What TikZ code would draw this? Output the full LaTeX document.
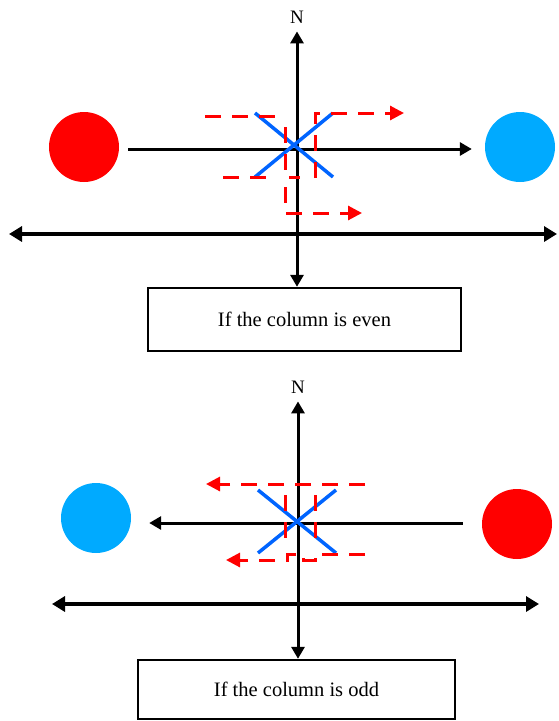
\documentclass[tikz,border=0pt]{standalone}
\usepackage{fontspec}
\setmainfont{Liberation Serif}
\usetikzlibrary{arrows.meta, positioning}
\definecolor{hotred}{RGB}{255,0,0}
\definecolor{skyblue}{RGB}{0,170,255}
\definecolor{crossblue}{RGB}{0,100,255}
\tikzset{
  compass/.style={line width=3pt, {Triangle[length=12pt,width=13pt]}-{Triangle[length=12pt,width=13pt]}},
  ray/.style={line width=3pt, -{Triangle[length=12pt,width=13pt]}},
  ground/.style={line width=4pt, {Triangle[length=13pt,width=15pt]}-{Triangle[length=13pt,width=15pt]}},
  ball/.style={circle, minimum size=70pt, inner sep=0pt},
  casebox/.style={draw, line width=2.4pt, font=\fontsize{20.5}{24}\selectfont},
  trail/.style={hotred, line width=3pt, dash pattern=on 16pt off 11pt},
  trailtip/.style={trail, -{Triangle[length=14pt,width=14pt]}},
  xline/.style={crossblue, line width=3.5pt},
  nlabel/.style={font=\fontsize{19}{22}\selectfont, inner sep=1pt}
}

\begin{document}
\begin{tikzpicture}[x=1pt,y=-1pt]
\useasboundingbox (0,0) rectangle (558,721);

% ── Even column ──────────────────────────────────────────────────────────────
\node[nlabel] (nA) at (297,17) {N};
\node[casebox, minimum width=313pt, minimum height=63pt] (boxA) at (304.5,319.5)
     {If the column is even};
\node[ball, fill=hotred] (redA) at (84,147) {};
\node[ball, fill=skyblue] (blueA) at (520,147) {};

\draw[compass] (nA.south) ++(0,-7pt) -- (nA.south |- boxA.north);
\draw[ray, shorten <=9pt, shorten >=13pt] (redA.east |- 0,149) -- (blueA.west |- 0,149);

\coordinate (gA1) at (9,234);
\coordinate (gA2) at (557,234);
\draw[ground] (gA1) -- (gA2);

% blue cross
\draw[xline] (255,113) -- (333,177);
\draw[xline] (333,113) -- (255,177);

% red trails
\draw[trail] (205,116) -- (283,116);
\draw[trail] (223,177) -- (272,177);
\draw[trail] (285,127) -- (285,177) -- (300,177);
\draw[trailtip] (285,187) -- (285,213) -- (362,213);
\draw[trailtip] (315,178) -- (315,113) -- (404,113);

% ── Odd column ───────────────────────────────────────────────────────────────
\node[nlabel] (nB) at (298,387) {N};
\node[casebox, minimum width=317pt, minimum height=59pt] (boxB) at (296.5,689.5)
     {If the column is odd};
\node[ball, fill=skyblue] (blueB) at (96,518) {};
\node[ball, fill=hotred] (redB) at (517,524) {};

\draw[compass] (nB.south) ++(0,-7pt) -- (nB.south |- boxB.north);
\draw[ray, shorten <=19pt, shorten >=18pt] (redB.west |- 0,523) -- (blueB.east |- 0,523);

\coordinate (gB1) at (52,604);
\coordinate (gB2) at (539,604);
\draw[ground, line width=4.6pt] (gB1) -- (gB2);

% blue cross
\draw[xline] (258,490) -- (336,553);
\draw[xline] (336,490) -- (258,553);

% red trails
\draw[trailtip] (365,484) -- (206,484);
\draw[trail] (285,495) -- (285,545);
\draw[trail] (315,495) -- (315,545);
\draw[trailtip] (365,554) -- (315,554) -- (315,560) -- (303,560) -- (303,554)
     -- (287,554) -- (287,560) -- (226,560);

\end{tikzpicture}
\end{document}
